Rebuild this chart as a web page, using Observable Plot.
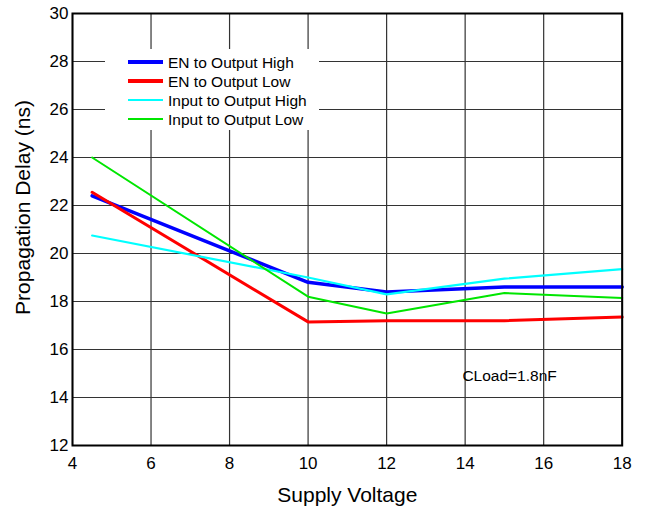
<!DOCTYPE html>
<html>
<head>
<meta charset="utf-8">
<script src="https://cdn.jsdelivr.net/npm/d3@7"></script>
<script src="https://cdn.jsdelivr.net/npm/@observablehq/plot@0.6"></script>
<style>
  html, body { margin: 0; padding: 0; background: #fff; }
  #wrap { position: relative; width: 649px; height: 511px; font-family: "Liberation Sans", Arial, sans-serif; }
  #legend { position: absolute; background: #fff; }
  .row { position: absolute; height: 19px; }
  .sw { position: absolute; }
  .lab { position: absolute; font-size: 15.5px; line-height: 19px; white-space: nowrap; color: #000; }
</style>
</head>
<body>
<div id="wrap"></div>
<script>
const voltage = [4.5, 10, 12, 15, 18];
const enHigh = [22.4, 18.8, 18.4, 18.6, 18.6];
const enLow = [22.55, 17.15, 17.2, 17.2, 17.35];
const inHigh = [20.75, 19.0, 18.3, 18.95, 19.35];
const inLow = [24.0, 18.2, 17.5, 18.35, 18.15];

const seriesNames = ["EN to Output High", "EN to Output Low", "Input to Output High", "Input to Output Low"];
const seriesValues = [enHigh, enLow, inHigh, inLow];
const seriesColors = ["#0000ff", "#ff0000", "#00ffff", "#00e600"];
const seriesWidths = [3.5, 3, 2.2, 2];

const xTicks = [4, 6, 8, 10, 12, 14, 16, 18];
const yTicks = [12, 14, 16, 18, 20, 22, 24, 26, 28, 30];

const annotation = [{text: "CLoad=1.8nF", x: 13.93, y: 14.88}];

const xLabel = "Supply Voltage";
const yLabel = "Propagation Delay (ns)";

const rows = [];
seriesNames.forEach((name, i) => {
  voltage.forEach((v, j) => rows.push({series: name, x: v, y: seriesValues[i][j], order: i}));
});

const font = '"Liberation Sans", Arial, sans-serif';

const chart = Plot.plot({
  width: 649,
  height: 511,
  marginLeft: 72,
  marginRight: 27.3,
  marginTop: 13,
  marginBottom: 66,
  style: {fontFamily: font, background: "#fff", overflow: "visible"},
  x: {domain: [4, 18]},
  y: {domain: [12, 30]},
  marks: [
    Plot.gridX(xTicks, {stroke: "#333", strokeOpacity: 1, strokeWidth: 1.2}),
    Plot.gridY(yTicks, {stroke: "#333", strokeOpacity: 1, strokeWidth: 1.2}),
    ...seriesNames.map((name, i) =>
      Plot.line(rows.filter(d => d.series === name), {
        x: "x", y: "y", stroke: seriesColors[i], strokeWidth: seriesWidths[i], strokeLinejoin: "miter"
      })
    ),
    Plot.frame({stroke: "#000", strokeWidth: 2}),
    Plot.axisX(xTicks, {tickSize: 0, tickPadding: 11, fontSize: 17, label: null}),
    Plot.axisY(yTicks, {tickSize: 0, tickPadding: 4, fontSize: 17, label: null}),
    Plot.text(annotation, {x: "x", y: "y", text: "text", textAnchor: "start", fontSize: 15.5, fill: "#000"}),
    Plot.text([xLabel], {frameAnchor: "bottom", textAnchor: "middle", lineAnchor: "middle", dy: 50, fontSize: 21, fill: "#000"}),
    Plot.text([yLabel], {frameAnchor: "left", textAnchor: "middle", lineAnchor: "middle", dx: -49, dy: -22, rotate: -90, fontSize: 21, fill: "#000"})
  ]
});

const wrap = document.getElementById("wrap");
wrap.appendChild(chart);

// Legend overlay inside the plot area
const legend = document.createElement("div");
legend.id = "legend";
Object.assign(legend.style, {left: "105px", top: "49px", width: "214px", height: "81px"});
seriesNames.forEach((name, i) => {
  const row = document.createElement("div");
  row.className = "row";
  row.style.left = "0px";
  row.style.top = (3.5 + i * 19) + "px";
  row.style.width = "214px";
  const sw = document.createElement("div");
  sw.className = "sw";
  sw.style.left = "23px";
  sw.style.width = "35px";
  sw.style.height = (i < 2 ? 3.5 : 2.5) + "px";
  sw.style.top = (9.5 - (i < 2 ? 1.75 : 1.25)) + "px";
  sw.style.background = seriesColors[i];
  const lab = document.createElement("div");
  lab.className = "lab";
  lab.style.left = "63px";
  lab.style.top = "0px";
  lab.textContent = name;
  row.appendChild(sw);
  row.appendChild(lab);
  legend.appendChild(row);
});
wrap.appendChild(legend);
</script>
</body>
</html>
